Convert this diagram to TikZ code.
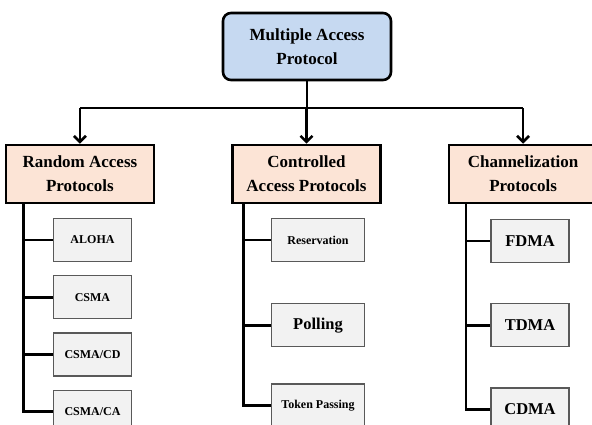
\documentclass[tikz,border=0pt]{standalone}
\usepackage{fontspec}
\setmainfont{Liberation Serif}
\usetikzlibrary{positioning, arrows.meta}
\definecolor{topblue}{HTML}{C6D9F1}
\definecolor{peach}{HTML}{FCE4D6}
\definecolor{itemgray}{HTML}{F2F2F2}

\begin{document}
\begin{tikzpicture}[x=1pt, y=-1pt, >={Straight Barb[length=6pt, width=12pt]}, line width=2.6pt, node distance=13pt,
    every node/.style={align=center},
    topbox/.style={draw, fill=topblue, rounded corners=8pt, minimum width=168pt, minimum height=67pt, font=\bfseries\fontsize{17}{24}\selectfont},
    groupbox/.style={draw, fill=peach, minimum width=148pt, minimum height=58pt, inner sep=2pt, font=\bfseries\fontsize{17}{24}\selectfont},
    itembox/.style={draw=black!65, line width=1.2pt, fill=itemgray, minimum height=43pt, font=\bfseries\fontsize{12}{14}\selectfont},
    bigitem/.style={itembox, font=\bfseries\fontsize{16.5}{18}\selectfont}]
    \useasboundingbox (0,0) rectangle (592,424);
    \clip (0,0) rectangle (592,424);

    \node (mac) [topbox] at (307,46.5) {Multiple Access\\Protocol};
    \node (ctrl) [groupbox] at (306.5,174) {Controlled\\Access Protocols};
    \node (rand) [groupbox, left=76pt of ctrl] {Random Access\\Protocols};
    \node (chan) [groupbox, right=66pt of ctrl] {Channelization\\Protocols};

    \coordinate (bus) at (0,108);
    \draw (mac.south) -- (mac.south |- bus);
    \draw (rand.north |- bus) -- (chan.north |- bus);
    \foreach \g in {rand,ctrl,chan}
        \draw[->] (\g.north |- bus) -- (\g.north);

    \node (aloha) [itembox, minimum width=78pt] at (92.5,240) {ALOHA};
    \node (csma) [itembox, minimum width=78pt, below=of aloha] {CSMA};
    \node (csmacd) [itembox, minimum width=78pt, below=of csma] {CSMA/CD};
    \node (csmaca) [itembox, minimum width=78pt, below=of csmacd] {CSMA/CA};

    \node (resv) [itembox, minimum width=93pt] at (318,240) {Reservation};
    \node (poll) [bigitem, minimum width=93pt, below=41pt of resv] {Polling};
    \node (token) [itembox, minimum width=93pt, below=36pt of poll] {Token Passing};

    \node (fdma) [bigitem, minimum width=78pt] at (530,241) {FDMA};
    \node (tdma) [bigitem, minimum width=78pt, below=40pt of fdma] {TDMA};
    \node (cdma) [bigitem, minimum width=78pt, below=40pt of tdma] {CDMA};

    \coordinate (randbus) at ([xshift=19pt]rand.south west);
    \coordinate (ctrlbus) at ([xshift=12pt]ctrl.south west);
    \coordinate (chanbus) at ([xshift=18pt]chan.south west);

    \draw (randbus) |- (csmaca.west);
    \foreach \b in {aloha,csma,csmacd}
        \draw (randbus |- \b.west) -- (\b.west);
    \draw (ctrlbus) |- (token.west);
    \foreach \b in {resv,poll}
        \draw (ctrlbus |- \b.west) -- (\b.west);
    \draw (chanbus) |- (cdma.west);
    \draw (chanbus |- fdma.west) -- (fdma.west);
    \draw (chanbus |- tdma.west) -- (tdma.west);
\end{tikzpicture}
\end{document}
